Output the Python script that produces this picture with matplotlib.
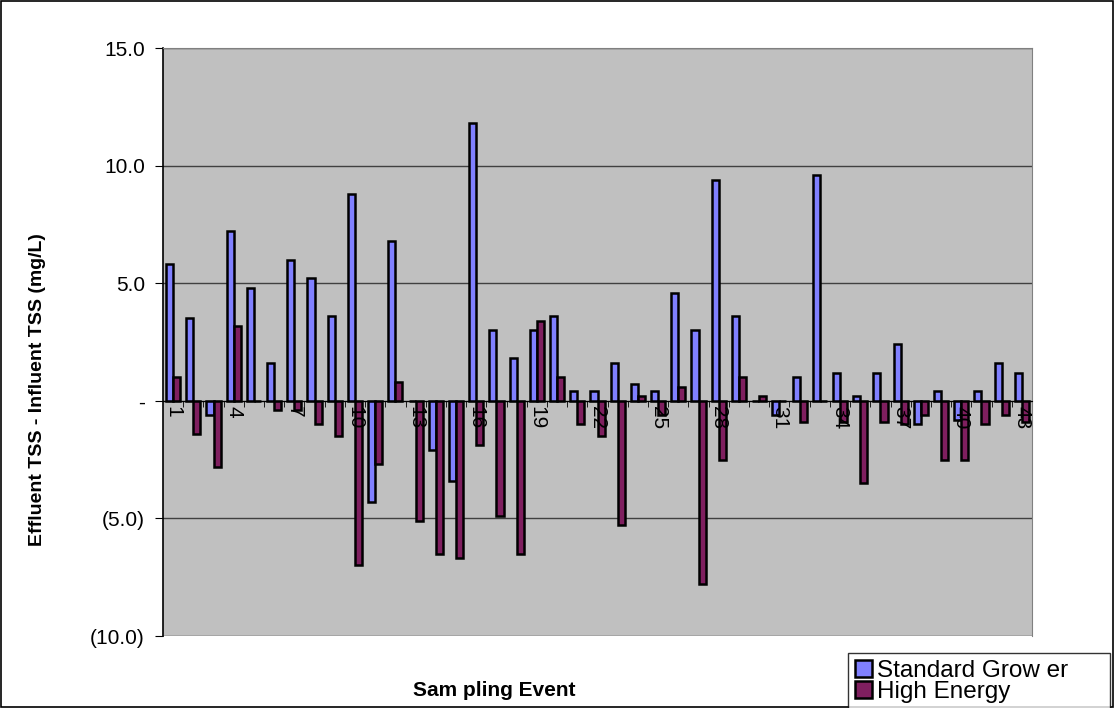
import matplotlib
matplotlib.use('Agg')
import matplotlib.pyplot as plt
from matplotlib.patches import Rectangle
from matplotlib.ticker import FixedLocator, FuncFormatter

plt.rcParams['font.family'] = ['Liberation Sans', 'DejaVu Sans']

# Effluent minus influent TSS (mg/L) per sampling event
events = list(range(1, 44))
standard_grower = [5.8, 3.5, -0.6, 7.2, 4.8, 1.6, 6.0, 5.2, 3.6, 8.8,
                   -4.3, 6.8, 0.0, -2.1, -3.4, 11.8, 3.0, 1.8, 3.0, 3.6,
                   0.4, 0.4, 1.6, 0.7, 0.4, 4.6, 3.0, 9.4, 3.6, 0.0,
                   -0.6, 1.0, 9.6, 1.2, 0.2, 1.2, 2.4, -1.0, 0.4, -0.8,
                   0.4, 1.6, 1.2]
high_energy = [1.0, -1.4, -2.8, 3.2, 0.0, -0.4, -0.4, -1.0, -1.5, -7.0,
               -2.7, 0.8, -5.1, -6.5, -6.7, -1.9, -4.9, -6.5, 3.4, 1.0,
               -1.0, -1.5, -5.3, 0.2, -0.6, 0.6, -7.8, -2.5, 1.0, 0.2,
               0.0, -0.9, 0.0, -0.9, -3.5, -0.9, -1.0, -0.6, -2.5, -2.5,
               -1.0, -0.6, -0.9]
label_events = events[::3]
y_ticks = [-10, -5, 0, 5, 10, 15]

BLUE = '#8080FF'
PLUM = '#7F1F5F'


def accounting(v, pos):
    if abs(v) < 1e-9:
        return '-'
    if v < 0:
        return '({:.1f})'.format(-v)
    return '{:.1f}'.format(v)


fig = plt.figure(figsize=(11.14, 7.08), dpi=100)
fig.patches.append(Rectangle((0.001, 0.001), 0.998, 0.997, transform=fig.transFigure,
                             fill=False, edgecolor='black', linewidth=1.2))

ax = fig.add_axes([163 / 1114, 1 - 636 / 708, 869 / 1114, 588 / 708])
ax.set_facecolor('#C0C0C0')

w = 0.35
ax.bar([e - w / 2 for e in events], standard_grower, width=w, color=BLUE,
       edgecolor='black', linewidth=1.8, zorder=2)
ax.bar([e + w / 2 for e in events], high_energy, width=w, color=PLUM,
       edgecolor='black', linewidth=1.8, zorder=2)

ax.set_xlim(0.5, 43.5)
ax.set_ylim(-10, 15)
ax.yaxis.set_major_locator(FixedLocator(y_ticks))
ax.yaxis.set_major_formatter(FuncFormatter(accounting))
ax.grid(axis='y', color='#404040', linewidth=1.0)
ax.yaxis.set_zorder(1)
ax.xaxis.set_zorder(5)

for side in ['top', 'right']:
    ax.spines[side].set_color('#808080')
ax.spines['left'].set_color('black')
ax.spines['left'].set_linewidth(1.2)
ax.spines['bottom'].set_position(('data', 0))
ax.spines['bottom'].set_color('black')
ax.spines['bottom'].set_zorder(4)

ax.set_xticks(label_events)
ax.set_xticklabels([str(e) for e in label_events], rotation=-90, fontsize=15,
                   va='top', ha='center')
ax.set_xticks([e + 0.5 for e in events[:-1]], minor=True)
ax.tick_params(axis='x', which='major', length=0, pad=4)
ax.tick_params(axis='x', which='minor', length=4, direction='out', color='black')
ax.tick_params(axis='y', which='major', length=6, direction='out', labelsize=15, pad=7)

fig.text(38 / 1114, 1 - 390 / 708, 'Effluent TSS - Influent TSS (mg/L)', fontsize=14,
         fontweight='bold', rotation=90, ha='center', va='center')
fig.text(494 / 1114, 1 - 690 / 708, 'Sam pling Event', fontsize=15, fontweight='bold',
         ha='center', va='center')

handles = [Rectangle((0, 0), 1, 1, facecolor=BLUE, edgecolor='black', linewidth=1.8),
           Rectangle((0, 0), 1, 1, facecolor=PLUM, edgecolor='black', linewidth=1.8)]
leg = fig.legend(handles, ['Standard Grow er', 'High Energy'], loc='lower left',
                 bbox_to_anchor=(848 / 1114, -2 / 708, 262 / 1114, 55 / 708),
                 mode='expand', fontsize=17.5, frameon=True, fancybox=False,
                 edgecolor='black', borderaxespad=0, handlelength=0.7,
                 handleheight=0.7, handletextpad=0.2, labelspacing=-0.05,
                 borderpad=0.3)
leg.get_frame().set_linewidth(1.0)
leg._legend_box.align = 'left'

fig.savefig('out.png', dpi=100)
